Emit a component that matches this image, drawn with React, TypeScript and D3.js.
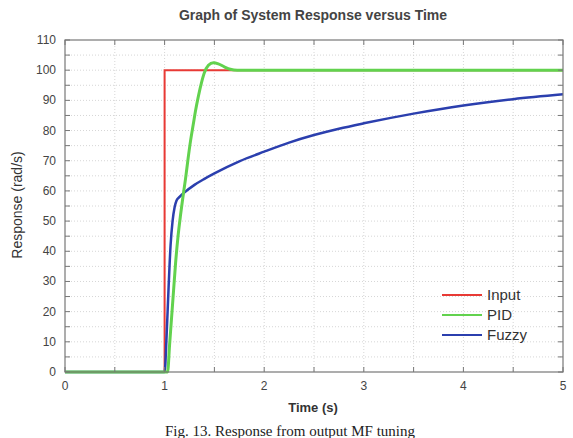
import React, { useEffect, useRef } from 'react';
import * as d3 from 'd3';

// time (s) and response (rad/s)
const inputT = [0, 1, 1, 5];
const inputV = [0, 0, 100, 100];

const pidT = [0, 1.03, 1.05, 1.07, 1.09, 1.11, 1.135, 1.16, 1.18, 1.21, 1.235, 1.26, 1.29, 1.31, 1.34, 1.37, 1.4, 1.44, 1.49, 1.54, 1.6, 1.66, 1.73, 5];
const pidV = [0, 0, 9, 18, 27, 36, 45, 52, 57, 64, 70.5, 76.5, 82.5, 86.5, 91.5, 95.8, 99.2, 101.6, 102.5, 102.1, 101.1, 100.3, 100, 100];

const fuzzyT = [0, 1.0, 1.02, 1.04, 1.06, 1.08, 1.1, 1.12, 1.15, 1.2, 1.3, 1.4, 1.5, 1.75, 2.0, 2.25, 2.5, 2.75, 3.0, 3.5, 4.0, 4.5, 5.0];
const fuzzyV = [0, 0, 12, 28, 42, 50, 54.5, 56.8, 58, 59.5, 62, 64, 65.8, 69.8, 73, 76, 78.5, 80.6, 82.4, 85.6, 88.3, 90.4, 92];

const xTicks = [0, 1, 2, 3, 4, 5];
const yTicks = [0, 10, 20, 30, 40, 50, 60, 70, 80, 90, 100, 110];

const seriesNames = ['Input', 'PID', 'Fuzzy'];
const seriesColors = ['#e83a35', '#62d24e', '#2b3fae'];
const seriesWidths = [2, 3, 2.5];

const App: React.FC = () => {
    const ref = useRef<SVGSVGElement | null>(null);

    useEffect(() => {
        if (!ref.current) return;
        const svg = d3.select(ref.current);
        svg.selectAll('*').remove();

        const margin = { left: 65, right: 563, top: 40, bottom: 372 };
        const x = d3.scaleLinear().domain([0, 5]).range([margin.left, margin.right]);
        const y = d3.scaleLinear().domain([0, 110]).range([margin.bottom, margin.top]);

        const minorX = d3.range(0, 5.01, 0.5);
        const minorY = d3.range(0, 110.1, 5);

        // grid
        const grid = svg.append('g');
        grid.selectAll('.gx')
            .data(minorX.slice(1, -1))
            .enter()
            .append('line')
            .attr('x1', (d) => x(d)).attr('x2', (d) => x(d))
            .attr('y1', margin.top).attr('y2', margin.bottom)
            .attr('stroke', '#d6d6d6').attr('stroke-dasharray', '1,2');
        grid.selectAll('.gy')
            .data(minorY.slice(1, -1))
            .enter()
            .append('line')
            .attr('y1', (d) => y(d)).attr('y2', (d) => y(d))
            .attr('x1', margin.left).attr('x2', margin.right)
            .attr('stroke', '#d6d6d6').attr('stroke-dasharray', '1,2');

        // series
        const allT = [inputT, pidT, fuzzyT];
        const allV = [inputV, pidV, fuzzyV];
        const curve = [d3.curveLinear, d3.curveMonotoneX, d3.curveMonotoneX];
        [0, 2, 1].forEach((i) => {
            const pts = allT[i].map((t, j) => [t, allV[i][j]] as [number, number]);
            const line = d3.line<[number, number]>()
                .x((d) => x(d[0]))
                .y((d) => y(d[1]))
                .curve(curve[i]);
            svg.append('path')
                .attr('d', line(pts) || '')
                .attr('fill', 'none')
                .attr('stroke', seriesColors[i])
                .attr('stroke-width', seriesWidths[i]);
        });

        // frame and ticks
        const axisColor = '#777';
        const tickG = svg.append('g').attr('stroke', axisColor).attr('stroke-width', 1);
        minorX.forEach((d) => {
            tickG.append('line').attr('x1', x(d)).attr('x2', x(d)).attr('y1', margin.bottom).attr('y2', margin.bottom - 5);
            tickG.append('line').attr('x1', x(d)).attr('x2', x(d)).attr('y1', margin.top).attr('y2', margin.top + 5);
        });
        minorY.forEach((d) => {
            tickG.append('line').attr('y1', y(d)).attr('y2', y(d)).attr('x1', margin.left).attr('x2', margin.left + 5);
            tickG.append('line').attr('y1', y(d)).attr('y2', y(d)).attr('x1', margin.right).attr('x2', margin.right - 5);
        });
        svg.append('rect')
            .attr('x', margin.left).attr('y', margin.top)
            .attr('width', margin.right - margin.left).attr('height', margin.bottom - margin.top)
            .attr('fill', 'none').attr('stroke', axisColor).attr('stroke-width', 1.2);

        const font = 'Liberation Sans, Arial, sans-serif';
        svg.selectAll('.xl')
            .data(xTicks)
            .enter()
            .append('text')
            .attr('x', (d) => x(d)).attr('y', 390)
            .attr('text-anchor', 'middle')
            .attr('font-family', font).attr('font-size', 12).attr('fill', '#444')
            .text((d) => `${d}`);
        svg.selectAll('.yl')
            .data(yTicks)
            .enter()
            .append('text')
            .attr('x', 56).attr('y', (d) => y(d) + 4)
            .attr('text-anchor', 'end')
            .attr('font-family', font).attr('font-size', 12).attr('fill', '#444')
            .text((d) => `${d}`);

        svg.append('text')
            .attr('x', 313).attr('y', 20)
            .attr('text-anchor', 'middle')
            .attr('font-family', font).attr('font-size', 14).attr('font-weight', 'bold').attr('fill', '#444')
            .text('Graph of System Response versus Time');
        svg.append('text')
            .attr('x', 313).attr('y', 412)
            .attr('text-anchor', 'middle')
            .attr('font-family', font).attr('font-size', 13).attr('font-weight', 'bold').attr('fill', '#333')
            .text('Time (s)');
        svg.append('text')
            .attr('transform', 'translate(22,205) rotate(-90)')
            .attr('text-anchor', 'middle')
            .attr('font-family', font).attr('font-size', 14).attr('fill', '#333')
            .text('Response (rad/s)');
        svg.append('text')
            .attr('x', 290).attr('y', 436)
            .attr('text-anchor', 'middle')
            .attr('font-family', 'Liberation Serif, Times New Roman, serif').attr('font-size', 15).attr('fill', '#222')
            .text('Fig. 13. Response from output MF tuning');

        // legend
        seriesNames.forEach((name, i) => {
            const ly = 295 + i * 20;
            svg.append('line')
                .attr('x1', 442).attr('x2', 482).attr('y1', ly).attr('y2', ly)
                .attr('stroke', seriesColors[i]).attr('stroke-width', 2);
            svg.append('text')
                .attr('x', 487).attr('y', ly + 5)
                .attr('font-family', font).attr('font-size', 15).attr('fill', '#333')
                .text(name);
        });
    }, []);

    return (
        <svg ref={ref} width={573} height={438} style={{ position: 'absolute', left: 0, top: 0, background: '#fff' }} />
    );
};

export default App;
